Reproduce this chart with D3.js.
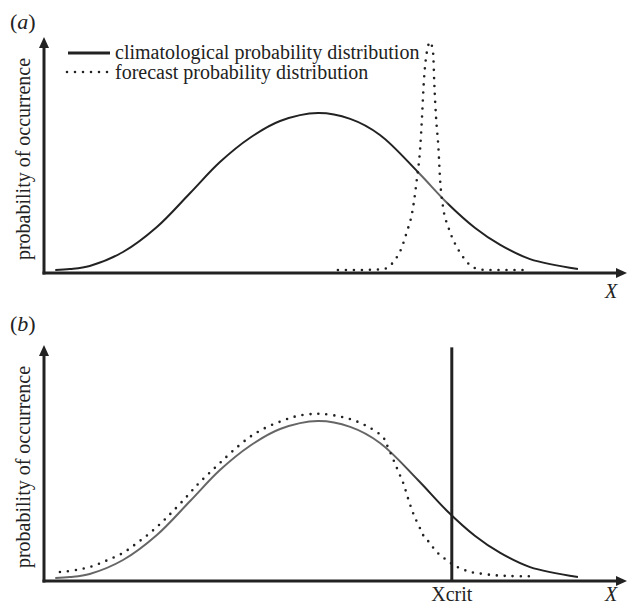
<!DOCTYPE html>
<html>
<head>
<meta charset="utf-8">
<script src="https://cdn.jsdelivr.net/npm/d3@7"></script>
<style>
  body { margin: 0; background: #fff; }
  text { font-family: "Liberation Serif", "DejaVu Serif", serif; fill: #222; }
</style>
</head>
<body>
<svg id="chart" width="627" height="606"></svg>
<script>
// climatological curve (same in both panels), x and y in plot units (0-100)
const climX = [2.1, 4.6, 8.0, 13.7, 19.5, 25.2, 30.3, 35.4, 40.6, 47.1, 52.6, 57.7, 64.2, 69.2, 74.0, 78.3, 83.4, 91.6];
const climY = [1.3, 1.7, 3.0, 8.9, 19.5, 33.9, 47.0, 57.2, 64.4, 67.8, 65.3, 58.5, 42.8, 29.7, 19.1, 11.9, 5.9, 1.7];

// forecast curve, panel (a): sharp peak
const fcstAX = [50.5, 54.3, 57.7, 58.9, 60.0, 61.4, 62.3, 63.2, 64.0, 64.6, 64.9, 65.2, 65.7, 66.3,
                66.8, 67.0, 67.3, 67.7, 68.0, 68.5, 69.4, 70.5, 71.7, 73.1, 74.5, 76.0, 82.9];
const fcstAY = [1.3, 1.3, 1.5, 2.1, 4.7, 10.6, 17.4, 25.4, 39.4, 53.4, 66.1, 80.5, 93.2, 97.9,
                93.2, 80.5, 66.1, 53.4, 39.4, 28.0, 19.5, 12.7, 7.6, 3.4, 1.7, 1.3, 1.3];

// forecast curve, panel (b): wide, drops off before Xcrit
const fcstBX = [2.9, 5.8, 8.6, 11.1, 13.7, 16.1, 18.3, 20.4, 22.3, 24.7, 26.4, 28.3, 30.3, 32.5, 35.4, 38.0,
                40.9, 43.5, 46.2, 47.8, 50.5, 53.1, 55.7, 58.2, 58.9, 61.1, 61.7, 62.6, 63.5, 64.7, 65.3,
                66.3, 67.1, 68.0, 69.1, 70.3, 71.7, 73.1, 74.5, 77.1, 80.0, 84.2];
const fcstBY = [3.8, 4.7, 6.4, 8.9, 11.9, 16.1, 20.3, 25.0, 29.7, 36.0, 40.7, 45.3, 50.0, 55.1, 61.0, 64.8,
                67.8, 69.9, 70.8, 70.8, 69.9, 68.2, 65.3, 61.0, 57.6, 44.9, 41.4, 34.3, 28.0, 21.6, 18.6,
                16.0, 13.1, 11.0, 8.9, 6.8, 5.1, 3.9, 3.3, 2.5, 2.1, 2.0];

const xcrit = 70;
const xcritTop = 99;
const legendLabels = ["climatological probability distribution", "forecast probability distribution"];
const panelLabels = ["a", "b"];
const yLabel = "probability of occurrence";

const svg = d3.select("#chart");
const ink = "#222";
const x = d3.scaleLinear().domain([0, 100]).range([43, 627]);
const defs = svg.append("defs");

// gradient so the solid curve turns grey where the reference does
function makeGradient(id, stops) {
    let grad = defs.append("linearGradient").attr("id", id).attr("gradientUnits", "userSpaceOnUse")
        .attr("x1", 43).attr("x2", 627).attr("y1", 0).attr("y2", 0);
    stops.forEach(s => grad.append("stop").attr("offset", s[0]).attr("stop-color", s[1]));
}
makeGradient("gradA", [[0, ink], [0.64, ink], [0.645, "#666"], [0.69, "#666"], [0.695, ink], [1, ink]]);
makeGradient("gradB", [[0, "#666"], [0.6, "#666"], [0.66, ink], [1, ink]]);

function drawPanel(top, bottom, idx, fx, fy, grad, fcstCurve) {
    const y = d3.scaleLinear().domain([0, 100]).range([bottom, top]);
    const g = svg.append("g");
    const smooth = d3.line().x(d => x(d[0])).y(d => y(d[1])).curve(d3.curveCatmullRom.alpha(0.5));
    const fline = d3.line().x(d => x(d[0])).y(d => y(d[1])).curve(fcstCurve);

    // axes with arrow heads
    g.append("line").attr("x1", 44).attr("x2", 44).attr("y1", bottom + 1.5).attr("y2", top + 8)
        .attr("stroke", ink).attr("stroke-width", 3);
    g.append("line").attr("x1", 42.5).attr("x2", 619).attr("y1", bottom).attr("y2", bottom)
        .attr("stroke", ink).attr("stroke-width", 3);
    g.append("path").attr("d", `M44,${top} L49,${top + 11} L39,${top + 11} Z`).attr("fill", ink);
    g.append("path").attr("d", `M627,${bottom} L616,${bottom - 5} L616,${bottom + 5} Z`).attr("fill", ink);

    // curves
    g.append("path").datum(d3.zip(climX, climY)).attr("d", smooth).attr("fill", "none")
        .attr("stroke", `url(#${grad})`).attr("stroke-width", 2);
    g.append("path").datum(d3.zip(fx, fy)).attr("d", fline).attr("fill", "none")
        .attr("stroke", ink).attr("stroke-width", 2.6).attr("stroke-linecap", "round").attr("stroke-dasharray", "0 8");

    // panel letter
    const lab = g.append("text").attr("x", 10).attr("y", idx == 0 ? top - 8 : top - 14).style("font-size", "22px");
    lab.append("tspan").text("(");
    lab.append("tspan").style("font-style", "italic").text(panelLabels[idx]);
    lab.append("tspan").text(")");

    // y label
    g.append("text").attr("transform", `translate(30,${(top + bottom) / 2 + 4}) rotate(-90)`)
        .attr("text-anchor", "middle").style("font-size", "20px").text(yLabel);

    // x label
    g.append("text").attr("x", 611).attr("y", Math.min(bottom + 25, 601)).attr("text-anchor", "middle")
        .style("font-size", "20px").style("font-style", "italic").text("X");
    return { g: g, y: y };
}

drawPanel(37, 273, 0, fcstAX, fcstAY, "gradA", d3.curveMonotoneX);
const pb = drawPanel(345, 581, 1, fcstBX, fcstBY, "gradB", d3.curveCatmullRom.alpha(0.5));

// Xcrit threshold
pb.g.append("line").attr("x1", x(xcrit)).attr("x2", x(xcrit)).attr("y1", pb.y(xcritTop)).attr("y2", pb.y(0))
    .attr("stroke", ink).attr("stroke-width", 3);
pb.g.append("text").attr("x", x(xcrit)).attr("y", 601).attr("text-anchor", "middle")
    .style("font-size", "20px").text("Xcrit");

// legend
const legend = svg.append("g");
legend.append("line").attr("x1", 68).attr("x2", 110).attr("y1", 53).attr("y2", 53).attr("stroke", ink).attr("stroke-width", 3);
legend.append("line").attr("x1", 67).attr("x2", 110).attr("y1", 72).attr("y2", 72).attr("stroke", ink)
    .attr("stroke-width", 2.6).attr("stroke-linecap", "round").attr("stroke-dasharray", "0 8");
legendLabels.forEach((t, i) => {
    legend.append("text").attr("x", 115).attr("y", 59 + i * 20).style("font-size", "20px").text(t);
});
</script>
</body>
</html>
